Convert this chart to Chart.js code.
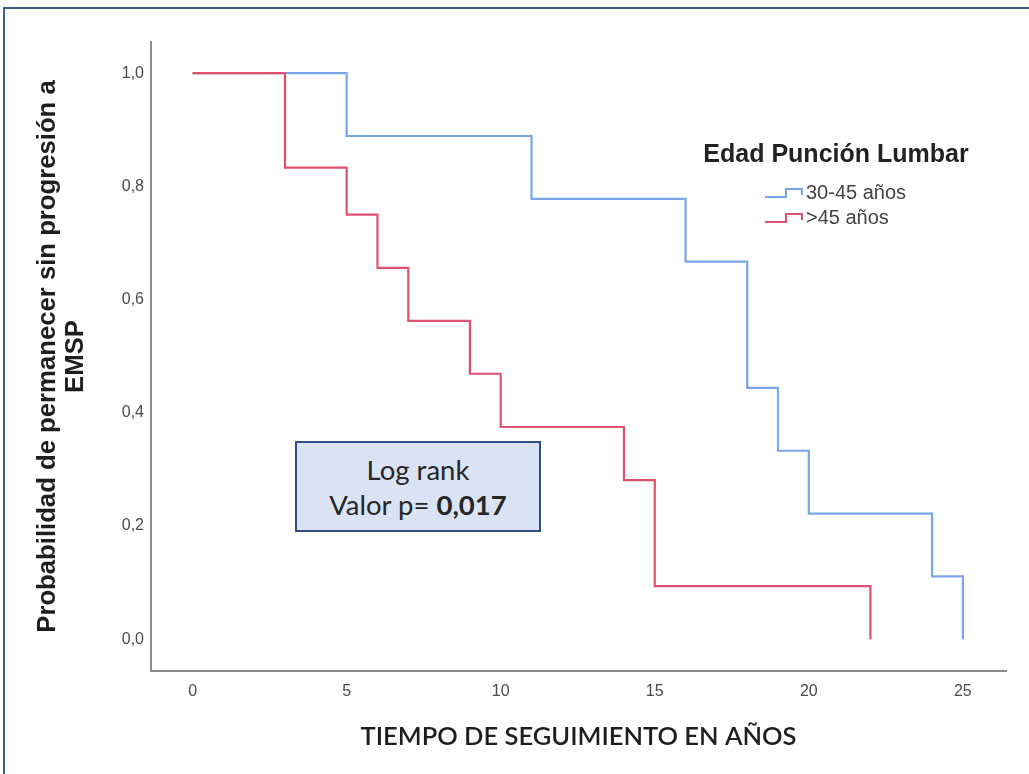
<!DOCTYPE html>
<html lang="es">
<head>
<meta charset="utf-8">
<title>Supervivencia libre de progresión a EMSP</title>
<script src="https://cdn.jsdelivr.net/npm/chart.js@4.4.1/dist/chart.umd.min.js"></script>
<style>
  html, body { margin: 0; padding: 0; background: #ffffff; overflow: hidden; }
  #wrap { position: relative; width: 1029px; height: 774px; overflow: hidden; background: #ffffff; }
  #marco { position: absolute; left: 3px; top: 7px; width: 1200px; height: 1000px;
           border: 2px solid #3f5d8f; box-sizing: border-box; pointer-events: none; }
  #grafico { position: absolute; left: 0; top: 0; }
  #logrank { position: absolute; left: 295px; top: 441px; width: 246px; height: 91px;
             box-sizing: border-box; background: #dae3f3; border: 2px solid #2f4f86;
             font-family: Lato, "Open Sans", sans-serif; font-size: 27.5px; color: #262626;
             text-align: center; line-height: 35px; padding-top: 9px; white-space: nowrap; }
  #logrank b { font-weight: 700; }
</style>
</head>
<body>
<div id="wrap">
  <div id="marco"></div>
  <canvas id="grafico" width="1029" height="774"></canvas>
  <div id="logrank">Log rank<br>Valor p= <b>0,017</b></div>
</div>
<script>
// Estimaciones de Kaplan-Meier por grupo de edad en la punción lumbar
const gruposEdad = ['30-45 años', '>45 años'];
const tiempo3045 = [0, 5, 11, 16, 18, 19, 20, 24, 25];
const superv3045 = [1.0, 0.889, 0.778, 0.667, 0.444, 0.333, 0.222, 0.111, 0.0];
const tiempoMas45 = [0, 3, 5, 6, 7, 9, 10, 14, 15, 22];
const supervMas45 = [1.0, 0.833, 0.75, 0.656, 0.5625, 0.469, 0.375, 0.281, 0.094, 0.0];

// Marcas de los ejes
const ticksTiempo = [0, 5, 10, 15, 20, 25];
const ticksProb = [0.0, 0.2, 0.4, 0.6, 0.8, 1.0];

const colores = ['#78a6e8', '#e0506f'];
const tituloLeyenda = 'Edad Punción Lumbar';

const puntos = (xs, ys) => xs.map((x, i) => ({ x: x, y: ys[i] }));
const coma = v => v.toFixed(1).replace('.', ',');

// Leyenda dibujada con iconos en forma de escalón
const leyendaEscalon = {
  id: 'leyendaEscalon',
  afterDraw(chart) {
    const ctx = chart.ctx;
    ctx.save();
    ctx.fillStyle = '#222222';
    ctx.font = 'bold 25px "Liberation Sans", Arial, sans-serif';
    ctx.textAlign = 'center';
    ctx.textBaseline = 'middle';
    ctx.fillText(tituloLeyenda, 836, 155);
    chart.data.datasets.forEach((ds, i) => {
      const yc = 193 + i * 25;
      ctx.strokeStyle = ds.borderColor;
      ctx.lineWidth = 2;
      ctx.beginPath();
      ctx.moveTo(765, yc + 4);
      ctx.lineTo(786, yc + 4);
      ctx.lineTo(786, yc - 4);
      ctx.lineTo(802, yc - 4);
      ctx.lineTo(802, yc + 2);
      ctx.stroke();
      ctx.fillStyle = '#444444';
      ctx.font = '20px "Liberation Sans", Arial, sans-serif';
      ctx.textAlign = 'left';
      ctx.fillText(ds.label, 806, yc);
    });
    ctx.restore();
  }
};

new Chart(document.getElementById('grafico'), {
  type: 'line',
  data: {
    datasets: [
      {
        label: gruposEdad[0],
        data: puntos(tiempo3045, superv3045),
        borderColor: colores[0],
        backgroundColor: colores[0],
        borderWidth: 2.2,
        stepped: 'before',
        pointRadius: 0,
        fill: false,
        order: 1
      },
      {
        label: gruposEdad[1],
        data: puntos(tiempoMas45, supervMas45),
        borderColor: colores[1],
        backgroundColor: colores[1],
        borderWidth: 2.2,
        stepped: 'before',
        pointRadius: 0,
        fill: false,
        order: 0
      }
    ]
  },
  options: {
    responsive: false,
    animation: false,
    events: [],
    layout: { padding: { left: 0, top: 42, right: 23, bottom: 0 } },
    plugins: {
      legend: { display: false },
      tooltip: { enabled: false }
    },
    scales: {
      x: {
        type: 'linear',
        min: -1.35,
        max: 26.4,
        afterBuildTicks: s => { s.ticks = ticksTiempo.map(v => ({ value: v })); },
        afterFit: s => { s.height = 774 - 671; },
        grid: { display: false, drawTicks: false },
        border: { display: true, color: '#8c8c8c', width: 2 },
        ticks: {
          color: '#4a4a4a',
          padding: 11,
          font: { family: '"Liberation Sans", Arial, sans-serif', size: 16 },
          callback: v => String(v)
        },
        title: {
          display: true,
          text: 'TIEMPO DE SEGUIMIENTO EN AÑOS',
          color: '#1e1e1e',
          font: { family: 'Lato, "Open Sans", sans-serif', size: 25.5, weight: '600', lineHeight: 1.2 },
          padding: { top: 0, bottom: 22 }
        }
      },
      y: {
        type: 'linear',
        min: -0.056,
        max: 1.055,
        afterBuildTicks: s => { s.ticks = ticksProb.map(v => ({ value: v })); },
        afterFit: s => { s.width = 151; },
        grid: { display: false, drawTicks: false },
        border: { display: true, color: '#8c8c8c', width: 2 },
        ticks: {
          color: '#4a4a4a',
          padding: 7,
          font: { family: '"Liberation Sans", Arial, sans-serif', size: 16 },
          callback: v => coma(v)
        },
        title: {
          display: true,
          text: ['Probabilidad de permanecer sin progresión a', 'EMSP'],
          color: '#1e1e1e',
          font: { family: '"Liberation Sans", Arial, sans-serif', size: 25.7, weight: 'bold', lineHeight: 1.1 },
          padding: { top: 34, bottom: 0 }
        }
      }
    }
  },
  plugins: [leyendaEscalon]
});
</script>
</body>
</html>
